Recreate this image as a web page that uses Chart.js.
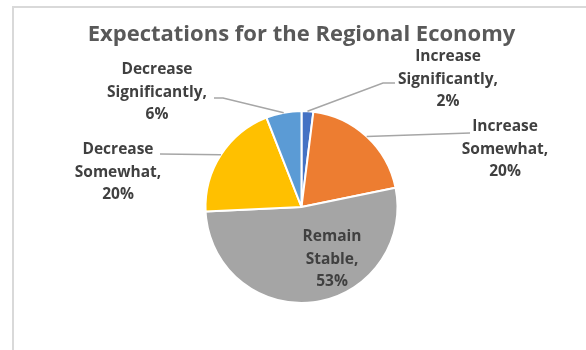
<!DOCTYPE html>
<html>
<head>
<meta charset="utf-8">
<script src="https://cdn.jsdelivr.net/npm/chart.js@4"></script>
<style>
  html, body { margin: 0; padding: 0; background: #fff; }
</style>
</head>
<body>
<canvas id="chart" width="586" height="350"></canvas>
<script>
const categories = [
  'Increase Significantly',
  'Increase Somewhat',
  'Remain Stable',
  'Decrease Somewhat',
  'Decrease Significantly',
];
const shares = [2, 20, 53, 20, 6];
const sliceColors = ['#4472c4', '#ed7d31', '#a5a5a5', '#ffc000', '#5b9bd5'];

const titleText = 'Expectations for the Regional Economy';
const labelFont = 'bold 15.5px "Open Sans"';
const textColor = '#404040';
const leaderColor = '#a6a6a6';

// where each data label sits (centre of first line) and the bend of its leader line
const labelPlacement = [
  { x: 448, y: 57, path: [[383, 83], [395, 83]] },
  { x: 505, y: 127, path: [[470, 133]] },
  { x: 332, y: 237, path: null },
  { x: 118, y: 150, path: [[160, 154]] },
  { x: 157, y: 70, path: [[223, 98], [214, 98]] },
];

const frameAndLabels = {
  id: 'frameAndLabels',
  beforeDraw(chart) {
    const ctx = chart.ctx;
    ctx.save();
    ctx.strokeStyle = '#d9d9d9';
    ctx.lineWidth = 2;
    ctx.beginPath();
    ctx.moveTo(13, chart.height);
    ctx.lineTo(13, 7);
    ctx.lineTo(chart.width, 7);
    ctx.stroke();

    ctx.fillStyle = '#595959';
    ctx.font = 'bold 22px "Open Sans"';
    ctx.textAlign = 'center';
    ctx.textBaseline = 'middle';
    ctx.fillText(titleText, 301.5, 35);
    ctx.restore();
  },
  afterDatasetsDraw(chart) {
    const ctx = chart.ctx;
    const arcs = chart.getDatasetMeta(0).data;
    ctx.save();
    arcs.forEach((arc, i) => {
      const place = labelPlacement[i];
      if (place.path) {
        const mid = (arc.startAngle + arc.endAngle) / 2;
        ctx.strokeStyle = leaderColor;
        ctx.lineWidth = 1.5;
        ctx.beginPath();
        ctx.moveTo(arc.x + Math.cos(mid) * arc.outerRadius, arc.y + Math.sin(mid) * arc.outerRadius);
        place.path.forEach(([px, py]) => ctx.lineTo(px, py));
        ctx.stroke();
      }
      const words = categories[i].split(' ');
      words[words.length - 1] += ',';
      const lines = words.concat(shares[i] + '%');
      ctx.fillStyle = textColor;
      ctx.font = labelFont;
      ctx.textAlign = 'center';
      ctx.textBaseline = 'middle';
      lines.forEach((line, k) => ctx.fillText(line, place.x, place.y + k * 22.5));
    });
    ctx.restore();
  },
};

new Chart(document.getElementById('chart'), {
  type: 'pie',
  data: {
    labels: categories,
    datasets: [
      {
        data: shares,
        backgroundColor: sliceColors,
        borderColor: '#ffffff',
        borderWidth: 2,
        offset: 0,
        hoverOffset: 0,
      },
    ],
  },
  options: {
    responsive: false,
    animation: false,
    events: [],
    devicePixelRatio: 1,
    layout: {
      padding: { left: 204.5, right: 187.5, top: 110, bottom: 46 },
    },
    plugins: {
      legend: { display: false },
      title: { display: false },
      tooltip: { enabled: false },
    },
  },
  plugins: [frameAndLabels],
});
</script>
</body>
</html>
